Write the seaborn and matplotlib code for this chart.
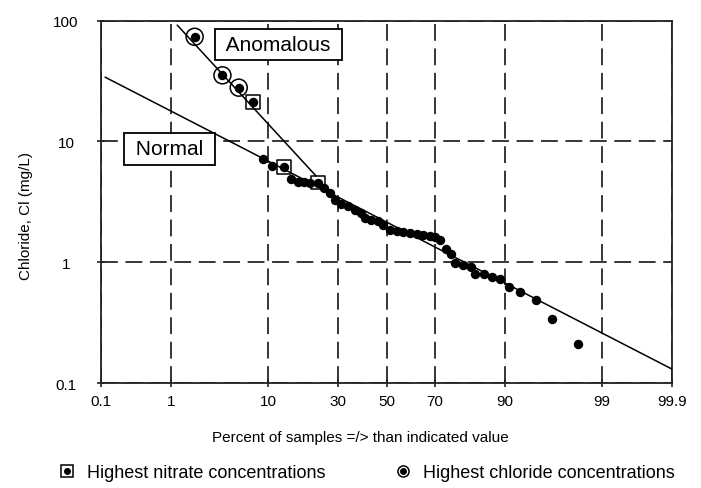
import numpy as np
import pandas as pd
import matplotlib
matplotlib.use("Agg")
import matplotlib.pyplot as plt
import seaborn as sns
from matplotlib.lines import Line2D
from matplotlib.ticker import NullLocator, FixedLocator, FixedFormatter
from statistics import NormalDist

# Cumulative percent of samples and chloride (mg/L)
pct = [1.9, 3.8, 5.5, 7.5, 9.1, 10.8, 13.3, 15.2, 17.0, 18.7, 20.5, 22.9,
       25.1, 26.9, 28.7, 31.2, 33.9, 36.5, 39.3, 40.7, 43.5, 46.4, 48.6,
       51.4, 54.3, 57.2, 60.0, 62.8, 65.5, 68.1, 70.0, 71.9, 73.9, 75.7,
       77.1, 79.5, 82.0, 83.0, 85.3, 87.3, 89.1, 90.7, 92.5, 94.7, 96.3, 98.1]
chloride = [73.6, 35.3, 27.9, 21.1, 7.13, 6.31, 6.15, 4.93, 4.64, 4.64, 4.55, 4.57,
            4.13, 3.75, 3.30, 3.04, 2.90, 2.73, 2.56, 2.33, 2.25, 2.18, 2.05,
            1.86, 1.80, 1.77, 1.75, 1.72, 1.69, 1.66, 1.63, 1.52, 1.29, 1.17,
            0.98, 0.94, 0.92, 0.80, 0.80, 0.75, 0.73, 0.62, 0.57, 0.49, 0.34, 0.21]

# samples flagged in the legend (indices into the lists above)
nitrate_idx = [3, 6, 11]
chloride_idx = [0, 1, 2]

# fitted lines (end points)
normal_pct = [0.117, 99.9]
normal_cl = [34.1, 0.13]
anom_pct = [1.18, 22.3]
anom_cl = [92.0, 5.18]

xticks = [0.1, 1, 10, 30, 50, 70, 90, 99, 99.9]
xticklabels = ["0.1", "1", "10", "30", "50", "70", "90", "99", "99.9"]
yticks = [0.1, 1, 10, 100]
yticklabels = ["0.1", "1", "10", "100"]

df = pd.DataFrame({"pct": pct, "cl": chloride})

_nd = NormalDist()
_ppf = np.vectorize(lambda v: _nd.inv_cdf(v / 100.0), otypes=[float])
_cdf = np.vectorize(lambda v: _nd.cdf(v) * 100.0, otypes=[float])


def pct_to_z(p):
    p = np.clip(np.asarray(p, dtype=float), 1e-9, 100 - 1e-9)
    return _ppf(p)


def z_to_pct(z):
    return _cdf(np.asarray(z, dtype=float))


sns.set_style("ticks")
plt.rcParams["font.family"] = ["Liberation Sans", "DejaVu Sans"]
plt.rcParams["text.color"] = "black"
plt.rcParams["axes.labelcolor"] = "black"

fig = plt.figure(figsize=(7.01, 4.89), dpi=100)
ax = fig.add_axes([0.1437, 0.2147, 0.8154, 0.7409])
ax.set_xscale("function", functions=(pct_to_z, z_to_pct))
ax.set_yscale("log")

# trend lines
sns.lineplot(x=normal_pct, y=normal_cl, ax=ax, color="black", lw=1.1,
             sort=False, estimator=None, zorder=3)
sns.lineplot(x=anom_pct, y=anom_cl, ax=ax, color="black", lw=1.1,
             sort=False, estimator=None, zorder=3)

# samples
sns.scatterplot(data=df, x="pct", y="cl", ax=ax, color="black", s=46,
                edgecolor="black", linewidth=0, zorder=4)
sns.scatterplot(data=df.iloc[nitrate_idx], x="pct", y="cl", ax=ax, marker="s",
                s=100, color="black", facecolor="none", edgecolor="black",
                linewidth=1.1, zorder=5)
sns.scatterplot(data=df.iloc[chloride_idx], x="pct", y="cl", ax=ax, marker="o",
                s=150, color="black", facecolor="none", edgecolor="black",
                linewidth=1.1, zorder=5)

ax.set_xlim(0.1, 99.9)
ax.set_ylim(0.1, 100)
ax.xaxis.set_major_locator(FixedLocator(xticks))
ax.xaxis.set_major_formatter(FixedFormatter(xticklabels))
ax.xaxis.set_minor_locator(NullLocator())
ax.yaxis.set_major_locator(FixedLocator(yticks))
ax.yaxis.set_major_formatter(FixedFormatter(yticklabels))
ax.yaxis.set_minor_locator(NullLocator())

ax.grid(True, color="black", linestyle=(0, (11, 5)), linewidth=1.1, zorder=1)
for sp in ax.spines.values():
    sp.set_linewidth(1.3)
    sp.set_color("#222222")
ax.tick_params(axis="both", direction="inout", length=6, width=1.2,
               color="#222222", labelsize=11, labelcolor="black")
ax.tick_params(axis="x", pad=5)
ax.tick_params(axis="y", pad=22)
for lab in ax.get_yticklabels():
    lab.set_horizontalalignment("center")

ax.set_xlabel("Percent of samples =/> than indicated value", fontsize=11)
ax.xaxis.set_label_coords(0.455, -0.13)
ax.set_ylabel("Chloride, Cl (mg/L)", fontsize=11)
ax.yaxis.set_label_coords(-0.118, 0.464)

box = dict(boxstyle="square,pad=0.3", fc="white", ec="black", lw=1.3)
ax.text(0.311, 0.935, " Anomalous ", transform=ax.transAxes, fontsize=15,
        ha="center", va="center", bbox=box, zorder=6)
ax.text(0.120, 0.646, " Normal ", transform=ax.transAxes, fontsize=15,
        ha="center", va="center", bbox=box, zorder=6)

# legend below the plot
sq = Line2D([], [], marker="s", ls="none", ms=8, mfc="none", mec="black", mew=1.1)
dot = Line2D([], [], marker="o", ls="none", ms=4, color="black")
circ = Line2D([], [], marker="o", ls="none", ms=8, mfc="none", mec="black", mew=1.1)
fig.legend([(sq, dot), (circ, dot)],
           ["Highest nitrate concentrations", "Highest chloride concentrations"],
           loc="center left", bbox_to_anchor=(0.0827, 1 - 474 / 489), ncol=2,
           frameon=False, fontsize=13, handlelength=1.0, handletextpad=0.6,
           columnspacing=3.8, borderpad=0, borderaxespad=0)

fig.savefig("out.png", dpi=100)
